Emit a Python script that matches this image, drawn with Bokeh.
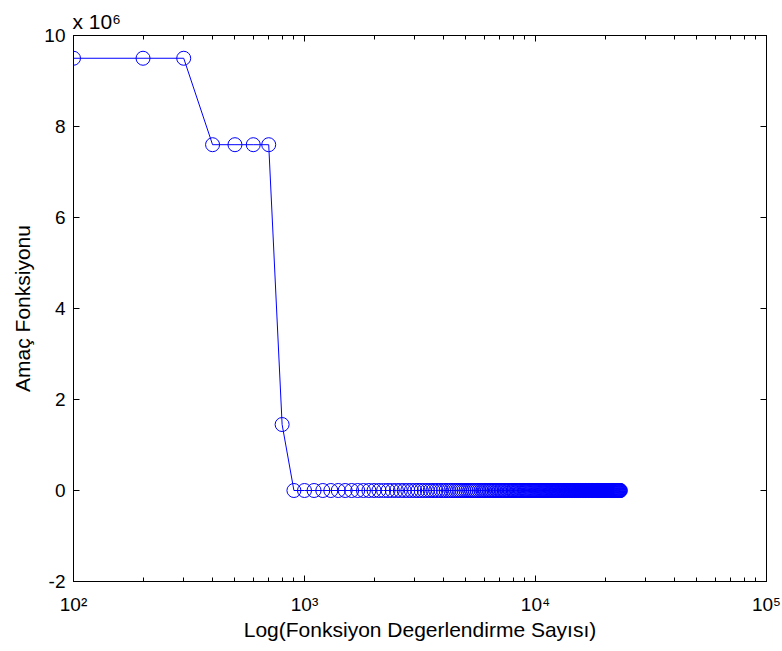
from bokeh.plotting import figure
from bokeh.models import (Range1d, FixedTicker, LogAxis, LinearAxis, CustomJSTickFormatter, ColumnDataSource)
from bokeh.embed import file_html
from bokeh.resources import INLINE

# ---- data ----
evals = [
    100, 200, 300, 400, 500, 600, 700, 800, 900, 1000,
    1100, 1200, 1300, 1400, 1500, 1600, 1700, 1800, 1900, 2000,
    2100, 2200, 2300, 2400, 2500, 2600, 2700, 2800, 2900, 3000,
    3100, 3200, 3300, 3400, 3500, 3600, 3700, 3800, 3900, 4000,
    4100, 4200, 4300, 4400, 4500, 4600, 4700, 4800, 4900, 5000,
    5100, 5200, 5300, 5400, 5500, 5600, 5700, 5800, 5900, 6000,
    6100, 6200, 6300, 6400, 6500, 6600, 6700, 6800, 6900, 7000,
    7100, 7200, 7300, 7400, 7500, 7600, 7700, 7800, 7900, 8000,
    8100, 8200, 8300, 8400, 8500, 8600, 8700, 8800, 8900, 9000,
    9100, 9200, 9300, 9400, 9500, 9600, 9700, 9800, 9900, 10000,
    10100, 10200, 10300, 10400, 10500, 10600, 10700, 10800, 10900, 11000,
    11100, 11200, 11300, 11400, 11500, 11600, 11700, 11800, 11900, 12000,
    12100, 12200, 12300, 12400, 12500, 12600, 12700, 12800, 12900, 13000,
    13100, 13200, 13300, 13400, 13500, 13600, 13700, 13800, 13900, 14000,
    14100, 14200, 14300, 14400, 14500, 14600, 14700, 14800, 14900, 15000,
    15100, 15200, 15300, 15400, 15500, 15600, 15700, 15800, 15900, 16000,
    16100, 16200, 16300, 16400, 16500, 16600, 16700, 16800, 16900, 17000,
    17100, 17200, 17300, 17400, 17500, 17600, 17700, 17800, 17900, 18000,
    18100, 18200, 18300, 18400, 18500, 18600, 18700, 18800, 18900, 19000,
    19100, 19200, 19300, 19400, 19500, 19600, 19700, 19800, 19900, 20000,
    20100, 20200, 20300, 20400, 20500, 20600, 20700, 20800, 20900, 21000,
    21100, 21200, 21300, 21400, 21500, 21600, 21700, 21800, 21900, 22000,
    22100, 22200, 22300, 22400, 22500, 22600, 22700, 22800, 22900, 23000,
    23100, 23200, 23300,
]
objective_head = [9.5e6, 9.5e6, 9.5e6, 7.6e6, 7.6e6, 7.6e6, 7.6e6, 1.45e6]
objective_tail_value = 0.0  # every evaluation from 900 on sits on the zero line
objective = objective_head + [objective_tail_value] * (len(evals) - len(objective_head))

y_ticks = [-2e6, 0, 2e6, 4e6, 6e6, 8e6, 10e6]
y_tick_labels = {-2e6: "-2", 0: "0", 2e6: "2", 4e6: "4", 6e6: "6", 8e6: "8", 10e6: "10"}
x_major = [1e2, 1e3, 1e4, 1e5]
x_tick_labels = {1e2: "10\u00b2", 1e3: "10\u00b3", 1e4: "10\u2074", 1e5: "10\u2075"}
x_minor = [200, 300, 400, 500, 600, 700, 800, 900,
           2000, 3000, 4000, 5000, 6000, 7000, 8000, 9000,
           20000, 30000, 40000, 50000, 60000, 70000, 80000, 90000]
x_label = "Log(Fonksiyon Degerlendirme Sayısı)"
y_label = "Amaç Fonksiyonu"
scale_label = "x 10\u2076"

FONT = "Liberation Sans"
TICK_FS = "19px"
LABEL_FS = "21px"
BLUE = "#0000ff"

p = figure(width=782, height=651, x_axis_type="log",
           x_range=Range1d(1e2, 1e5), y_range=Range1d(-2e6, 10e6),
           output_backend="svg", toolbar_location=None,
           min_border_left=73, min_border_right=16, min_border_top=35, min_border_bottom=70)
p.background_fill_color = "white"
p.border_fill_color = "white"
p.outline_line_color = "black"
p.outline_line_width = 1
p.xgrid.visible = False
p.ygrid.visible = False

# the "x 10^6" multiplier, shown as the plot title at the top left
p.title.text = scale_label
p.title.align = "left"
p.title.offset = -1
p.title.standoff = 6
p.title.text_font = FONT
p.title.text_font_size = "21px"
p.title.text_font_style = "normal"
p.title.text_color = "black"

xt = FixedTicker(ticks=x_major, minor_ticks=x_minor)
yt = FixedTicker(ticks=y_ticks, minor_ticks=[])

def style(ax):
    ax.axis_line_color = "black"
    ax.major_tick_line_color = "black"
    ax.minor_tick_line_color = "black"
    ax.major_tick_in = 6
    ax.major_tick_out = 0
    ax.minor_tick_in = 4
    ax.minor_tick_out = 0
    ax.major_label_text_font = FONT
    ax.major_label_text_font_size = TICK_FS
    ax.major_label_text_color = "black"
    ax.axis_label_text_font = FONT
    ax.axis_label_text_font_size = LABEL_FS
    ax.axis_label_text_font_style = "normal"
    ax.axis_label_text_color = "black"

xa = p.xaxis[0]
xa.ticker = xt
xa.major_label_overrides = x_tick_labels
xa.axis_label = x_label
xa.major_label_standoff = 12
xa.axis_label_standoff = 0
style(xa)

ya = p.yaxis[0]
ya.ticker = yt
ya.major_label_overrides = y_tick_labels
ya.axis_label = y_label
ya.major_label_standoff = 8
ya.axis_label_standoff = 7
style(ya)

blank = CustomJSTickFormatter(code="return ' ';")

top = LogAxis(ticker=xt, formatter=blank)
style(top)
top.major_label_text_font_size = "2px"
top.major_label_text_alpha = 0
top.major_label_standoff = 0
p.add_layout(top, "above")

right = LinearAxis(ticker=yt, formatter=blank)
style(right)
right.major_label_text_font_size = "2px"
right.major_label_text_alpha = 0
right.major_label_standoff = 0
p.add_layout(right, "right")

src = ColumnDataSource(dict(x=evals, y=objective))
p.line("x", "y", source=src, line_color=BLUE, line_width=1)
p.scatter("x", "y", source=src, marker="circle", size=14,
          fill_color=None, line_color=BLUE, line_width=1)

open("out.html", "w").write(file_html(p, INLINE))
